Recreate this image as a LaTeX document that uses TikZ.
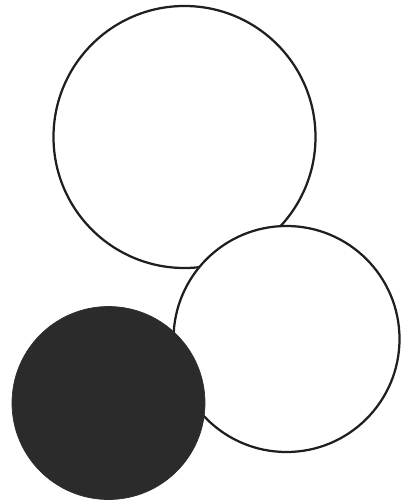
\documentclass[tikz,border=0pt]{standalone}
\usetikzlibrary{positioning}

\begin{document}
\begin{tikzpicture}[
		x=0.5mm, y=-0.5mm,
		% Open rings (white fill so later rings cover earlier ones)
		ring/.style={
				circle, draw=black!88, line width=3.2pt, fill=white,
				inner sep=0pt, minimum size=#1
			},
		% Solid dark disc
		disc/.style={
				circle, draw=black!82, line width=1pt, fill=black!83,
				inner sep=0pt, minimum size=#1
			}
	]

	% ==========================================
	% 1. CANVAS (410 x 500)
	% ==========================================
	\useasboundingbox (0, 0) rectangle (410, 500);

	% ==========================================
	% 2. CIRCLES (back to front)
	% ==========================================

	% Large ring at the top
	\node[ring=131mm] (upper) at (184.5, 137) {};

	% Middle ring, lower right
	\node[ring=113mm] (middle) at (286.5, 339) {};

	% Dark disc, lower left
	\node[disc=96.5mm] (lower) at (108.5, 403) {};

\end{tikzpicture}
\end{document}
